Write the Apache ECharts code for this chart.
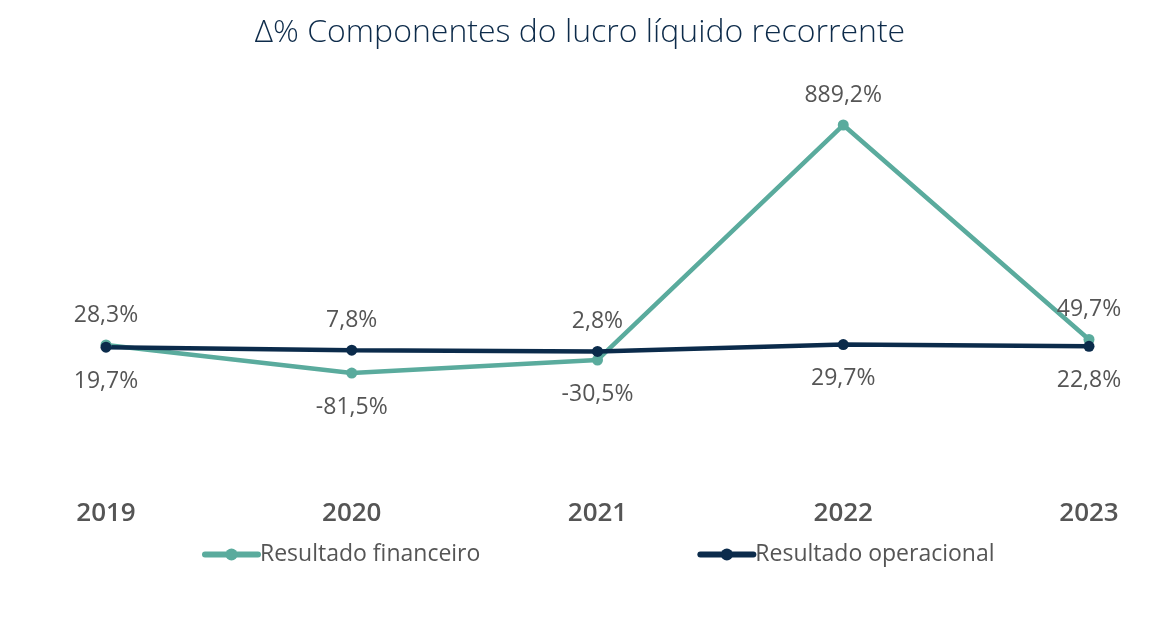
<!DOCTYPE html>
<html><head><meta charset="utf-8">
<script src="https://cdn.jsdelivr.net/npm/echarts@6/dist/echarts.min.js"></script>
<style>html,body{margin:0;padding:0;background:#fff}#c{width:1160px;height:623px}</style>
</head><body><div id="c"></div>
<script>
const years = ['2019','2020','2021','2022','2023'];
const financeiro = [28.3, -81.5, -30.5, 889.2, 49.7];
const operacional = [19.7, 7.8, 2.8, 29.7, 22.8];
const finPos = ['top','bottom','bottom','top','top'];
const opPos = ['bottom','top','top','bottom','bottom'];
const teal = '#5aab9d', navy = '#0b2b4b', grey = '#555555';
const font = '"Open Sans"';
const fmt = v => v.toFixed(1).replace('.', ',') + '%';
function mk(vals, pos){
  return vals.map((v,i)=>({value:v, label:{position:pos[i], distance: pos[i]==='bottom' ? 17 : 13}}));
}
const chart = echarts.init(document.getElementById('c'));
chart.setOption({
  animation:false,
  title:{text:'Δ% Componentes do lucro líquido recorrente', left:'center', top:12,
    textStyle:{fontFamily:font, fontSize:32, fontWeight:300, color:'#0d2b4a'}},
  grid:{left:106, right:71, top:96.7, height:357.7},
  legend:{left:197, top:538, itemWidth:53, itemHeight:15, itemGap:217,
    lineStyle:{width:6, cap:'round'},
    textStyle:{fontFamily:font, fontSize:23, fontWeight:380, color:grey, padding:[0,0,0,-3]},
    data:['Resultado financeiro','Resultado operacional']},
  xAxis:{type:'category', data:years, boundaryGap:false,
    axisLine:{show:false}, axisTick:{show:false}, splitLine:{show:false},
    axisLabel:{margin:46, fontFamily:font, fontSize:26, fontWeight:550, color:grey}},
  yAxis:{type:'value', min:-400, max:1000, show:false},
  series:[
    {name:'Resultado financeiro', type:'line', data:mk(financeiro, finPos),
      lineStyle:{width:4.5, color:teal}, itemStyle:{color:teal}, symbol:'circle', symbolSize:11,
      label:{show:true, formatter:p=>fmt(p.value), fontFamily:font, fontSize:23, fontWeight:380, color:grey}},
    {name:'Resultado operacional', type:'line', data:mk(operacional, opPos),
      lineStyle:{width:4.5, color:navy}, itemStyle:{color:navy}, symbol:'circle', symbolSize:11,
      label:{show:true, formatter:p=>fmt(p.value), fontFamily:font, fontSize:23, fontWeight:380, color:grey}}
  ]
});
</script></body></html>
